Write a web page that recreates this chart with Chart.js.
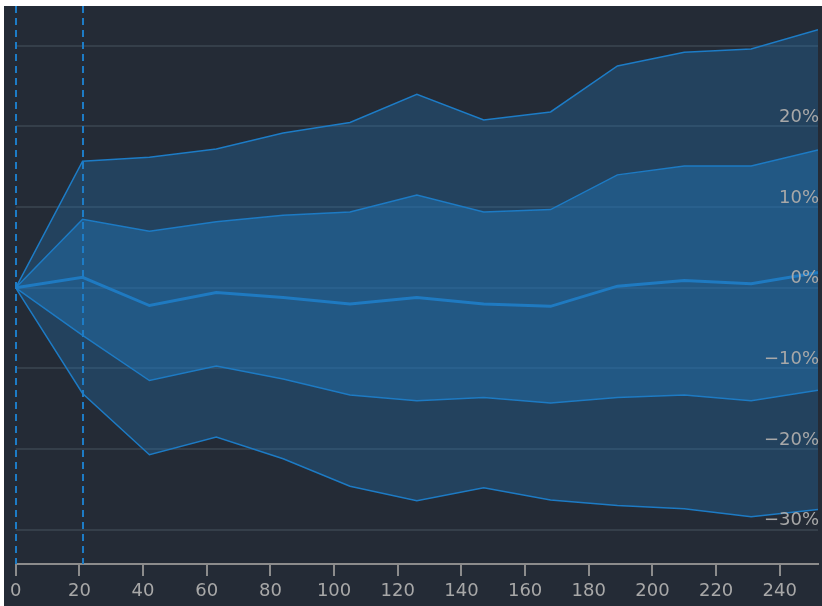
<!DOCTYPE html>
<html>
<head>
<meta charset="utf-8">
<script src="https://cdn.jsdelivr.net/npm/chart.js@4/dist/chart.umd.min.js"></script>
<style>
  html, body { margin: 0; padding: 0; background: #ffffff; }
  #wrap { position: absolute; left: 4px; top: 6px; width: 818px; height: 600px; background: #242b36; }
</style>
</head>
<body>
<div id="wrap"><canvas id="fanChart" width="818" height="600"></canvas></div>
<script>
// trading days since start
const days = [0, 21, 42, 63, 84, 105, 126, 147, 168, 189, 210, 231, 252];
// return percentiles, in %
const p95 = [0, 15.7, 16.2, 17.2, 19.2, 20.5, 24.0, 20.8, 21.8, 27.5, 29.2, 29.6, 32.0];
const p75 = [0, 8.5, 7.0, 8.2, 9.0, 9.4, 11.5, 9.4, 9.7, 14.0, 15.1, 15.1, 17.1];
const p50 = [0, 1.3, -2.2, -0.6, -1.2, -2.0, -1.2, -2.0, -2.3, 0.2, 0.9, 0.5, 1.9];
const p25 = [0, -5.9, -11.5, -9.7, -11.3, -13.3, -14.0, -13.6, -14.3, -13.6, -13.3, -14.0, -12.7];
const p05 = [0, -13.1, -20.7, -18.5, -21.2, -24.6, -26.4, -24.8, -26.3, -27.0, -27.4, -28.4, -27.5];
// dashed marker lines
const markerDays = [0, 21];

const lineColor = "#1d7cc6";
const outerFill = "rgba(32,120,190,0.30)";
const innerFill = "rgba(32,120,190,0.58)";
const textColor = "#a8a8a8";

function pts(values) {
  return values.map((v, i) => ({ x: days[i], y: v }));
}

function band(values, fill, bg, width) {
  return {
    data: pts(values),
    borderColor: lineColor,
    borderWidth: width,
    backgroundColor: bg,
    fill: fill,
    pointRadius: 0,
    tension: 0
  };
}

const markers = {
  id: "markers",
  afterDatasetsDraw(chart) {
    const { ctx, chartArea, scales } = chart;
    ctx.save();
    ctx.strokeStyle = lineColor;
    ctx.lineWidth = 2;
    ctx.setLineDash([7, 5]);
    markerDays.forEach(d => {
      const x = Math.round(scales.x.getPixelForValue(d));
      ctx.beginPath();
      ctx.moveTo(x, chartArea.top);
      ctx.lineTo(x, chartArea.bottom);
      ctx.stroke();
    });
    ctx.restore();
  }
};

const ctx = document.getElementById("fanChart").getContext("2d");
new Chart(ctx, {
  type: "line",
  data: {
    datasets: [
      band(p95, "+1", outerFill, 1.5),
      band(p75, "+2", innerFill, 1.5),
      band(p50, false, "transparent", 3),
      band(p25, "+1", outerFill, 1.5),
      band(p05, false, "transparent", 1.5)
    ]
  },
  options: {
    responsive: false,
    animation: false,
    layout: { padding: { left: 11, right: 2, top: 0, bottom: 0 } },
    plugins: { legend: { display: false }, tooltip: { enabled: false } },
    scales: {
      x: {
        type: "linear",
        min: 0,
        max: 252,
        grid: { display: true, drawOnChartArea: false, drawTicks: true, tickLength: 12, color: "#8c8c8c", lineWidth: 2 },
        border: { display: true, color: "#8c8c8c", width: 2 },
        ticks: { stepSize: 20, includeBounds: false, color: textColor, padding: 6, maxRotation: 0, font: { family: "DejaVu Sans", size: 18, lineHeight: 1 } }
      },
      y: {
        type: "linear",
        position: "right",
        min: -34.25,
        max: 34.94,
        afterFit(scale) { scale.paddingTop = 0; scale.paddingBottom = 0; },
        grid: { color: "#353f4a", lineWidth: 2, drawTicks: false },
        border: { display: false },
        ticks: {
          z: 1,
          stepSize: 10,
          includeBounds: false,
          mirror: true,
          padding: 1,
          labelOffset: -9,
          color: textColor,
          font: { family: "DejaVu Sans", size: 18 },
          callback: v => v === 30 ? "" : (v < 0 ? "\u2212" + (-v) : v) + "%"
        }
      }
    }
  },
  plugins: [markers]
});
</script>
</body>
</html>
